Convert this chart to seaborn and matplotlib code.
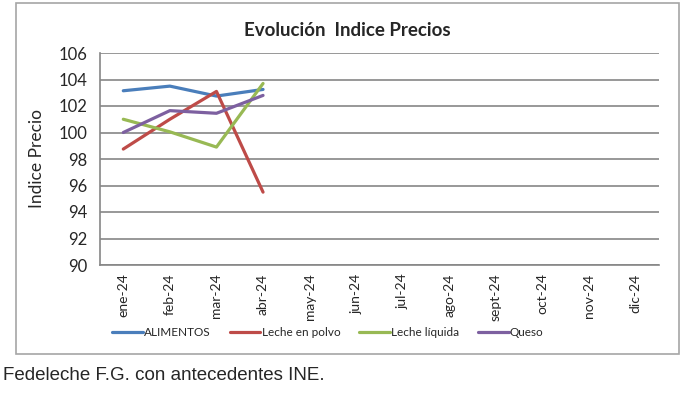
import numpy as np
import pandas as pd
import seaborn as sns
import matplotlib

matplotlib.use('Agg')
import matplotlib.pyplot as plt
from matplotlib.patches import Rectangle
from matplotlib.ticker import FixedLocator

# datos
meses = ["ene-24", "feb-24", "mar-24", "abr-24", "may-24", "jun-24",
         "jul-24", "ago-24", "sept-24", "oct-24", "nov-24", "dic-24"]
alimentos = [103.15, 103.5, 102.75, 103.25]
leche_polvo = [98.75, 101.0, 103.1, 95.5]
leche_liquida = [101.0, 100.05, 98.9, 103.7]
queso = [100.0, 101.65, 101.45, 102.8]

series = {
    "ALIMENTOS": alimentos,
    "Leche en polvo": leche_polvo,
    "Leche líquida": leche_liquida,
    "Queso": queso,
}
colores = ["#4A7EBB", "#BE4B48", "#98B954", "#7D60A0"]

filas = []
for nombre, valores in series.items():
    for i, v in enumerate(valores):
        filas.append({"mes": i, "indice": v, "serie": nombre})
df = pd.DataFrame(filas)

sns.set_style("white")
plt.rcParams['font.family'] = ['Lato', 'DejaVu Sans']

fig = plt.figure(figsize=(7, 3.93), dpi=100)
ax = fig.add_axes([100 / 700, 1 - 265 / 393, 559 / 700, 212 / 393])

sns.lineplot(data=df, x="mes", y="indice", hue="serie", palette=colores,
             linewidth=2.3, ax=ax, legend=True)

ax.set_xlim(-0.5, 11.5)
ax.set_ylim(90, 106)
ax.set_yticks(np.arange(90, 107, 2))
ax.set_xticks(range(len(meses)))
ax.set_xticklabels(meses, rotation=90, fontsize=10)
ax.xaxis.set_minor_locator(FixedLocator(np.arange(-0.5, 12, 1)))
ax.tick_params(axis="x", which="major", length=0, pad=6)
ax.tick_params(axis="x", which="minor", length=4, color="#868686", width=1, direction="out")
ax.tick_params(axis="y", length=5, color="#868686", width=1, direction="out", labelsize=12, pad=4)
ax.grid(axis="y", color="#868686", linewidth=1.2)
ax.set_axisbelow(True)
for lado in ["top", "right"]:
    ax.spines[lado].set_visible(False)
for lado in ["left", "bottom"]:
    ax.spines[lado].set_color("#868686")
    ax.spines[lado].set_linewidth(1.2)

ax.set_xlabel("")
ax.set_ylabel("Indice Precio", fontsize=12.5, labelpad=10)

handles, labels = ax.get_legend_handles_labels()
ax.get_legend().remove()
fig.legend(handles, labels, ncol=4, loc="center", bbox_to_anchor=(328 / 700, 1 - 333 / 393),
           frameon=False, fontsize=8.5, handlelength=2.6, handletextpad=0.1, columnspacing=1.6)

fig.text(347 / 700, 1 - 30 / 393, "Evolución  Indice Precios", ha="center", va="center",
         fontsize=13.5, fontweight="bold")

fig.patches.append(Rectangle((16 / 700, 1 - 354 / 393), 663 / 700, 351 / 393,
                             transform=fig.transFigure, fill=False,
                             edgecolor="#A6A6A6", linewidth=1.2))

fig.text(3 / 700, 1 - 376 / 393, "Fedeleche F.G. con antecedentes INE.", ha="left", va="center",
         fontsize=13.5, family=["Liberation Sans", "DejaVu Sans"])

fig.savefig("out.png", dpi=100)
